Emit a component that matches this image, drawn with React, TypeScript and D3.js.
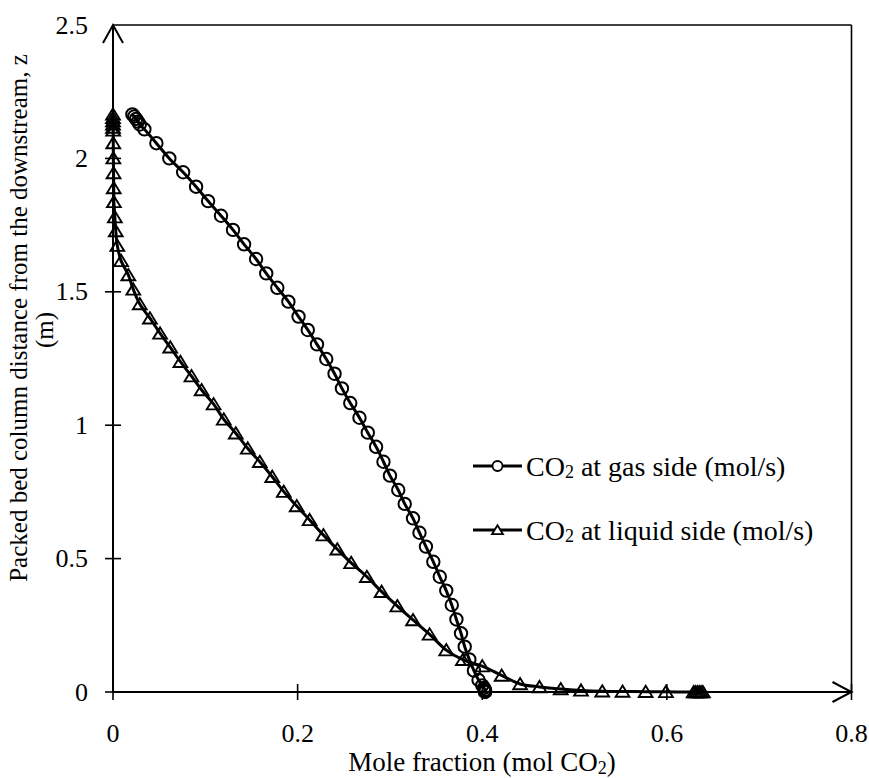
import React from "react";
import * as d3 from "d3";

const gasX = [0.021, 0.023, 0.025, 0.027, 0.029, 0.034, 0.047, 0.061, 0.076, 0.090, 0.103, 0.117, 0.130, 0.142, 0.155, 0.166, 0.178, 0.190, 0.201, 0.211, 0.221, 0.231, 0.240, 0.248, 0.257, 0.267, 0.276, 0.285, 0.293, 0.300, 0.309, 0.316, 0.325, 0.332, 0.339, 0.347, 0.354, 0.361, 0.367, 0.372, 0.377, 0.381, 0.386, 0.391, 0.396, 0.400, 0.402, 0.403, 0.403, 0.403, 0.403];
const gasZ = [2.165, 2.157, 2.148, 2.138, 2.127, 2.109, 2.057, 2.000, 1.948, 1.894, 1.840, 1.785, 1.732, 1.678, 1.623, 1.569, 1.515, 1.463, 1.407, 1.357, 1.303, 1.248, 1.193, 1.138, 1.083, 1.028, 0.972, 0.919, 0.863, 0.811, 0.757, 0.705, 0.651, 0.597, 0.545, 0.488, 0.432, 0.380, 0.326, 0.272, 0.220, 0.170, 0.122, 0.080, 0.045, 0.025, 0.015, 0.008, 0.004, 0.001, 0.0];

const liqX = [0.0, 0.0, 0.0, 0.0, 0.0, 0.0002, 0.0003, 0.0004, 0.0006, 0.0008, 0.001, 0.002, 0.003, 0.0047, 0.0088, 0.0166, 0.022, 0.029, 0.040, 0.051, 0.062, 0.073, 0.085, 0.096, 0.109, 0.120, 0.133, 0.146, 0.159, 0.1725, 0.185, 0.199, 0.213, 0.228, 0.243, 0.258, 0.275, 0.291, 0.308, 0.325, 0.343, 0.361, 0.379, 0.400, 0.421, 0.441, 0.462, 0.485, 0.507, 0.530, 0.552, 0.577, 0.599, 0.629, 0.631, 0.633, 0.635, 0.637, 0.639];
const liqZ = [2.165, 2.152, 2.140, 2.128, 2.116, 2.105, 2.058, 2.001, 1.945, 1.889, 1.837, 1.780, 1.728, 1.673, 1.616, 1.563, 1.509, 1.454, 1.401, 1.344, 1.292, 1.238, 1.184, 1.132, 1.079, 1.022, 0.970, 0.913, 0.863, 0.807, 0.751, 0.697, 0.645, 0.588, 0.535, 0.484, 0.432, 0.376, 0.322, 0.270, 0.216, 0.157, 0.121, 0.097, 0.062, 0.030, 0.019, 0.011, 0.006, 0.003, 0.002, 0.001, 0.0005, 0.0, 0.0, 0.0, 0.0, 0.0, 0.0];

const xTicks = [0, 0.2, 0.4, 0.6, 0.8];
const yTicks = [0, 0.5, 1, 1.5, 2, 2.5];
const xTickLabels = ["0", "0.2", "0.4", "0.6", "0.8"];
const yTickLabels = ["0", "0.5", "1", "1.5", "2", "2.5"];

const FONT = "'Liberation Serif', 'Times New Roman', serif";

const tri = (cx: number, cy: number, s: number) =>
  `M${cx},${cy - s * 0.48}L${cx + s * 0.55},${cy + s * 0.42}L${cx - s * 0.55},${cy + s * 0.42}Z`;

export default function App() {
  const W = 869, H = 778;
  const x = d3.scaleLinear().domain([0, 0.8]).range([113, 851.5]);
  const y = d3.scaleLinear().domain([0, 2.5]).range([692, 25]);
  const line = d3
    .line<[number, number]>()
    .x((d) => x(d[0]))
    .y((d) => y(d[1]))
    .curve(d3.curveCatmullRom.alpha(0.5));
  const gas = gasX.map((v, i) => [v, gasZ[i]] as [number, number]);
  const liq = liqX.map((v, i) => [v, liqZ[i]] as [number, number]);
  const x0 = x(0), y0 = y(0), xr = x(0.8), yt = y(2.5);

  const legendY = [466, 530];
  return (
    <svg width={W} height={H} style={{ position: "absolute", left: 0, top: 0, background: "#fff" }} fontFamily={FONT}>
      <rect x={0} y={0} width={W} height={H} fill="#fff" />
      {/* border top/right */}
      <line x1={x0} y1={yt} x2={xr} y2={yt} stroke="#000" strokeWidth={1.6} />
      <line x1={xr} y1={yt} x2={xr} y2={y0} stroke="#000" strokeWidth={1.6} />
      {/* axes */}
      <line x1={x0} y1={y0} x2={xr} y2={y0} stroke="#000" strokeWidth={2} />
      <line x1={x0} y1={y0} x2={x0} y2={yt} stroke="#000" strokeWidth={2} />
      <path d={`M${xr - 19},${y0 - 10}L${xr},${y0}L${xr - 19},${y0 + 10}`} fill="none" stroke="#000" strokeWidth={2} />
      <path d={`M${x0 - 10},${yt + 18}L${x0},${yt}L${x0 + 10},${yt + 18}`} fill="none" stroke="#000" strokeWidth={2} />
      {xTicks.map((t, i) => (
        <g key={"xt" + i}>
          <line x1={x(t)} x2={x(t)} y1={y0 - 8} y2={y0 + 8} stroke="#000" strokeWidth={1.6} />
          <text x={x(t)} y={733} textAnchor="middle" dominantBaseline="central" fontSize={26}>{xTickLabels[i]}</text>
        </g>
      ))}
      {yTicks.map((t, i) => (
        <g key={"yt" + i}>
          {i < yTicks.length - 1 && <line x1={x0 - 8} x2={x0 + 8} y1={y(t)} y2={y(t)} stroke="#000" strokeWidth={1.6} />}
          <text x={88} y={y(t)} textAnchor="end" dominantBaseline="central" fontSize={26}>{yTickLabels[i]}</text>
        </g>
      ))}
      {/* series */}
      <path d={line(gas) || ""} fill="none" stroke="#000" strokeWidth={3} />
      <path d={line(liq) || ""} fill="none" stroke="#000" strokeWidth={3} />
      {gas.map((d, i) => (
        <circle key={"g" + i} cx={x(d[0])} cy={y(d[1])} r={6.2} fill="none" stroke="#000" strokeWidth={2} />
      ))}
      {liq.map((d, i) => (
        <path key={"l" + i} d={tri(x(d[0]), y(d[1]), 12.5)} fill="none" stroke="#000" strokeWidth={1.9} />
      ))}
      {/* legend */}
      <g>
        <line x1={473} x2={522} y1={legendY[0]} y2={legendY[0]} stroke="#000" strokeWidth={3} />
        <circle cx={497.5} cy={legendY[0]} r={5} fill="#fff" stroke="#000" strokeWidth={1.8} />
        <text x={526} y={legendY[0]} dominantBaseline="central" fontSize={28}>
          CO<tspan fontSize={18} dy={6}>2</tspan><tspan dy={-6}> at gas side (mol/s)</tspan>
        </text>
        <line x1={473} x2={522} y1={legendY[1]} y2={legendY[1]} stroke="#000" strokeWidth={3} />
        <path d={tri(497.5, legendY[1], 10)} fill="#fff" stroke="#000" strokeWidth={1.8} />
        <text x={526} y={legendY[1]} dominantBaseline="central" fontSize={28}>
          CO<tspan fontSize={18} dy={6}>2</tspan><tspan dy={-6}> at liquid side (mol/s)</tspan>
        </text>
      </g>
      {/* axis titles */}
      <text x={482} y={762} textAnchor="middle" dominantBaseline="central" fontSize={27}>
        Mole fraction (mol CO<tspan fontSize={18} dy={6}>2</tspan><tspan dy={-6}>)</tspan>
      </text>
      <text transform="translate(18,318) rotate(-90)" textAnchor="middle" dominantBaseline="central" fontSize={25}>
        Packed bed column distance from the downstream, z
      </text>
      <text transform="translate(44,330) rotate(-90)" textAnchor="middle" dominantBaseline="central" fontSize={25}>
        (m)
      </text>
    </svg>
  );
}
